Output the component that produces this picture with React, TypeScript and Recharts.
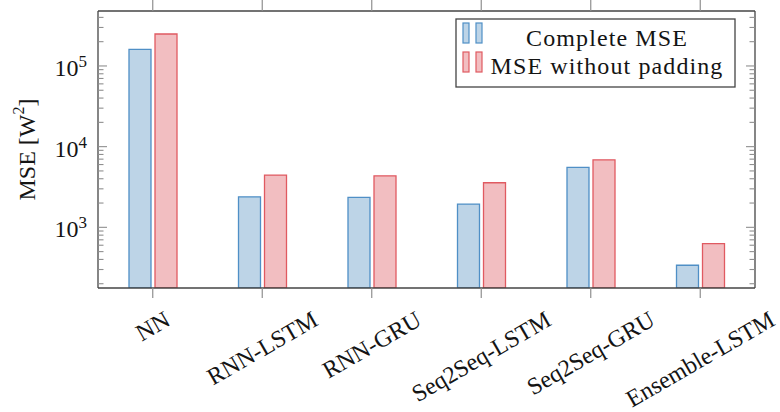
import React from 'react'
import { BarChart, Bar, XAxis, YAxis, Legend } from 'recharts'

const models = ['NN', 'RNN-LSTM', 'RNN-GRU', 'Seq2Seq-LSTM', 'Seq2Seq-GRU', 'Ensemble-LSTM']
const completeMse = [161000, 2390, 2350, 1940, 5530, 339]
const mseWithoutPadding = [249000, 4440, 4350, 3570, 6870, 627]

const majorTicks = [1000, 10000, 100000]
const minorTicks = [
  200, 300, 400, 500, 600, 700, 800, 900,
  2000, 3000, 4000, 5000, 6000, 7000, 8000, 9000,
  20000, 30000, 40000, 50000, 60000, 70000, 80000, 90000,
  200000, 300000, 400000,
]
const yTicks = [...minorTicks, ...majorTicks].sort((a, b) => a - b)
const yDomain = [177, 480000]

const FONT = "'Liberation Serif', 'Times New Roman', serif"
const INK = '#141414'
const FRAME = '#444444'
const TICK = '#8f8f8f'
const BLUE_FILL = '#bdd4e7'
const BLUE_LINE = '#4f8fc6'
const RED_FILL = '#f2bec1'
const RED_LINE = '#e05a61'

const data = models.map((name, i) => ({
  name,
  complete: completeMse[i],
  noPadding: mseWithoutPadding[i],
}))

let ctx: CanvasRenderingContext2D | null = null
const textWidth = (s: string, size: number) => {
  if (!ctx) ctx = document.createElement('canvas').getContext('2d')
  if (!ctx) return s.length * size * 0.5
  ctx.font = `${size}px ${FONT}`
  return ctx.measureText(s).width
}

// x labels: rotated 30deg, bounding box top-centred under the tick
const BottomTick = ({ x, y, payload }: any) => {
  const label = String(payload.value)
  const w = textWidth(label, 24)
  const cy = y + 22 + w * 0.25 + 7.5
  return (
    <g>
      <line x1={x} y1={y} x2={x} y2={y + 10} stroke={TICK} strokeWidth={1.2} />
      <text
        x={x}
        y={cy}
        transform={`rotate(-30, ${x}, ${cy})`}
        textAnchor="middle"
        dominantBaseline="central"
        fontFamily={FONT}
        fontSize={24}
        fill={INK}
      >
        {label}
      </text>
    </g>
  )
}

const TopTick = ({ x, y }: any) => (
  <line x1={x} y1={y} x2={x} y2={y - 11} stroke={TICK} strokeWidth={1.2} />
)

const LeftTick = ({ x, y, payload }: any) => {
  const v = payload.value
  const major = majorTicks.includes(v)
  return (
    <g>
      <line x1={x} y1={y} x2={x + (major ? 9 : 5.5)} y2={y} stroke={TICK} strokeWidth={1.1} />
      {major && (
        <text x={x - 11} y={y + 10} textAnchor="end" fontFamily={FONT} fontSize={24} fill={INK}>
          10
          <tspan dy={-9} fontSize={17}>{Math.round(Math.log10(v))}</tspan>
        </text>
      )}
    </g>
  )
}

const RightTick = ({ x, y, payload }: any) => {
  const major = majorTicks.includes(payload.value)
  return <line x1={x} y1={y} x2={x - (major ? 9 : 5.5)} y2={y} stroke={TICK} strokeWidth={1.1} />
}

const YTitle = ({ viewBox }: any) => {
  const cx = 27
  const cy = viewBox && viewBox.height ? viewBox.y + viewBox.height / 2 : 150
  return (
    <text
      x={cx}
      y={cy}
      transform={`rotate(-90, ${cx}, ${cy})`}
      textAnchor="middle"
      dominantBaseline="central"
      fontFamily={FONT}
      fontSize={24}
      fill={INK}
    >
      MSE [W
      <tspan dy={-9} fontSize={16}>2</tspan>
      <tspan dy={9}>]</tspan>
    </text>
  )
}

const LegendBox = ({ payload }: any) => {
  const items = payload && payload.length ? payload : []
  return (
    <svg width={281} height={70} style={{ display: 'block' }}>
      <rect x={1} y={1} width={279} height={68} fill="#fff" stroke={FRAME} strokeWidth={1.3} />
      {items.map((p: any, i: number) => {
        const blue = p.dataKey === 'complete'
        const fill = blue ? BLUE_FILL : RED_FILL
        const line = blue ? BLUE_LINE : RED_LINE
        const top = 5 + i * 29
        return (
          <g key={p.dataKey}>
            <rect x={8} y={top} width={6} height={20} fill={fill} stroke={line} strokeWidth={1.2} />
            <rect x={21} y={top} width={6} height={20} fill={fill} stroke={line} strokeWidth={1.2} />
            <text
              x={152}
              y={28 + i * 28}
              textAnchor="middle"
              fontFamily={FONT}
              fontSize={24}
              letterSpacing={1.1}
              fill={INK}
            >
              {p.value}
            </text>
          </g>
        )
      })}
    </svg>
  )
}

export default function App() {
  return (
    <div style={{ position: 'absolute', left: 0, top: 0, width: 780, height: 412, background: '#fff' }}>
      <BarChart
        width={780}
        height={412}
        data={data}
        margin={{ top: 0, right: 0, bottom: 0, left: 0 }}
        barSize={22}
        barGap={4}
      >
        <XAxis
          dataKey="name"
          height={124}
          interval={0}
          tickSize={0}
          tickMargin={0}
          tickLine={false}
          tick={<BottomTick />}
          axisLine={{ stroke: FRAME, strokeWidth: 1.3 }}
        />
        <XAxis
          xAxisId="top"
          orientation="top"
          dataKey="name"
          height={11}
          interval={0}
          tickSize={0}
          tickMargin={0}
          tickLine={false}
          tick={<TopTick />}
          axisLine={{ stroke: FRAME, strokeWidth: 1.3 }}
        />
        <YAxis
          scale="log"
          type="number"
          domain={yDomain}
          allowDataOverflow
          ticks={yTicks}
          interval={0}
          width={98}
          tickSize={0}
          tickMargin={0}
          tickLine={false}
          tick={<LeftTick />}
          axisLine={{ stroke: FRAME, strokeWidth: 1.3 }}
          label={<YTitle />}
        />
        <YAxis
          yAxisId="right"
          orientation="right"
          scale="log"
          type="number"
          domain={yDomain}
          allowDataOverflow
          ticks={yTicks}
          interval={0}
          width={25}
          tickSize={0}
          tickMargin={0}
          tickLine={false}
          tick={<RightTick />}
          axisLine={{ stroke: FRAME, strokeWidth: 1.3 }}
        />
        <Legend
          layout="vertical"
          align="center"
          verticalAlign="middle"
          wrapperStyle={{ left: 455, top: 18, width: 281, height: 70 }}
          content={<LegendBox />}
        />
        <Bar
          dataKey="complete"
          name="Complete MSE"
          fill={BLUE_FILL}
          stroke={BLUE_LINE}
          strokeWidth={1.3}
          isAnimationActive={false}
        />
        <Bar
          dataKey="noPadding"
          name="MSE without padding"
          fill={RED_FILL}
          stroke={RED_LINE}
          strokeWidth={1.3}
          isAnimationActive={false}
        />
      </BarChart>
    </div>
  )
}
